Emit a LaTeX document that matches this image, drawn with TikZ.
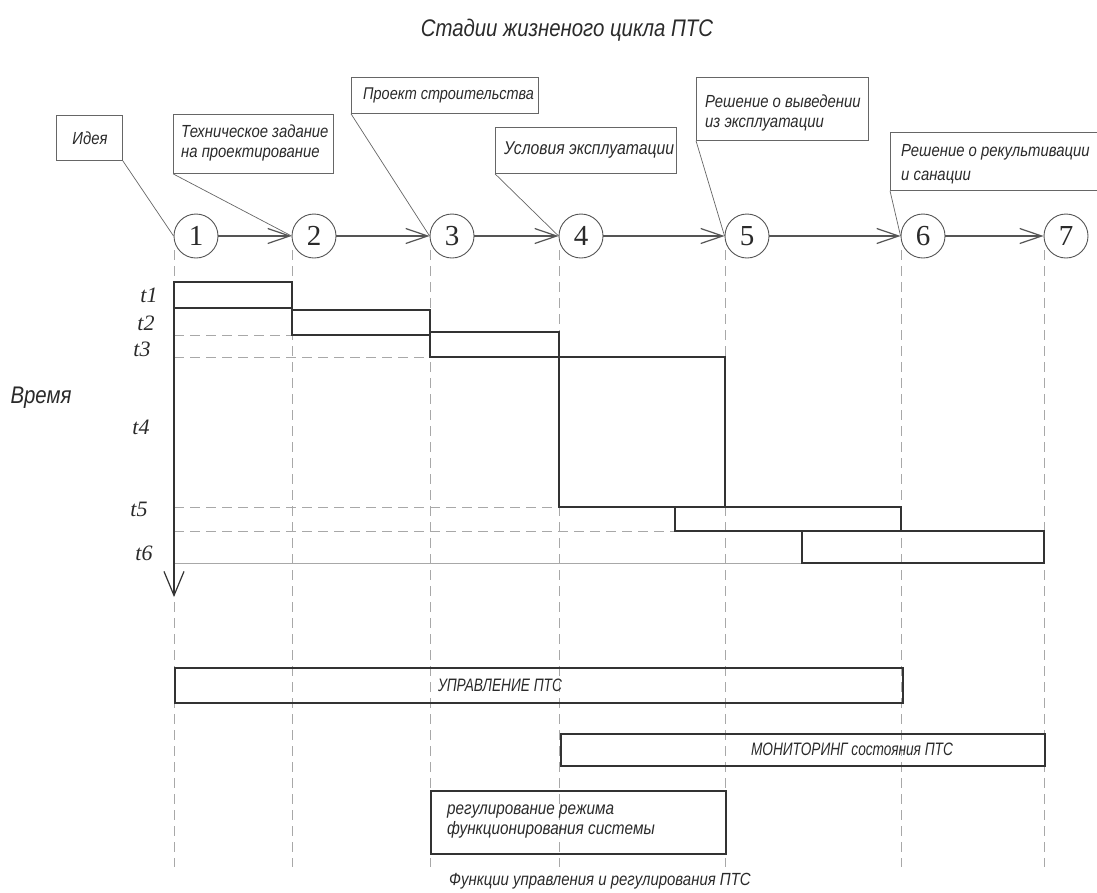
\documentclass[tikz,border=0pt]{standalone}
\usepackage{fontspec}
\setmainfont{Liberation Serif}
\newfontfamily\gost{Liberation Sans}[FakeStretch=0.85]
\newfontfamily\gostc{Liberation Sans}[FakeStretch=0.76]
\usetikzlibrary{arrows.meta}
\definecolor{ink}{HTML}{2A2A2A}
\definecolor{boxline}{HTML}{333333}
\definecolor{arrline}{HTML}{555555}
\definecolor{leadline}{HTML}{666666}
\definecolor{dashline}{HTML}{A8A8A8}
\begin{document}
\begin{tikzpicture}[x=1pt,y=-1pt,
  circ/.style={circle,draw=arrline,line width=0.9pt,minimum size=44pt,inner sep=0pt,text=ink,fill=white,font=\fontsize{29}{29}\selectfont},
  arr/.style={draw=arrline,line width=2.2pt,-{Straight Barb[length=22pt,width=15pt,line width=1.2pt]}},
  callout/.style={draw=leadline,line width=0.8pt,inner sep=0pt,anchor=north west},
  ctext/.style={text=ink,font=\gost\itshape\fontsize{17.5}{20}\selectfont,align=left,anchor=west,inner sep=0pt},
  leader/.style={draw=leadline,line width=0.7pt},
  vdash/.style={draw=dashline,line width=0.9pt,dash pattern=on 10pt off 6pt},
  hdash/.style={draw=dashline,line width=0.9pt,dash pattern=on 10pt off 6pt},
  tbox/.style={draw=boxline,line width=1.5pt},
  fbox/.style={draw=boxline,line width=1.5pt,inner sep=0pt,anchor=north west},
  tlab/.style={text=ink,font=\itshape\fontsize{22}{22}\selectfont},
  gtext/.style={text=ink,font=\gost\itshape\fontsize{#1}{#1}\selectfont},
  gtext/.default=18,
  gcaps/.style={text=ink,font=\gostc\itshape\fontsize{18}{18}\selectfont}
]
\useasboundingbox (0,0) rectangle (1097,892);

% title
\node[gtext=24] (title) at (567,30) {Стадии жизненого цикла ПТС};

% vertical dashed guide lines
\foreach \xx/\nm in {174/v1,292/v2,430/v3,559/v4,725/v5,901/v6,1044/v7}{
  \coordinate (\nm a) at (\xx,250);
  \coordinate (\nm b) at (\xx,867);
  \draw[vdash] (\nm a) -- (\nm b);
}

% stage circles
\node[circ] (c1) at (196,236) {1};
\node[circ] (c2) at (314,236) {2};
\node[circ] (c3) at (452,236) {3};
\node[circ] (c4) at (581,236) {4};
\node[circ] (c5) at (747,236) {5};
\node[circ] (c6) at (923,236) {6};
\node[circ] (c7) at (1066,236) {7};
\draw[arr] (c1) -- (c2);
\draw[arr] (c2) -- (c3);
\draw[arr] (c3) -- (c4);
\draw[arr] (c4) -- (c5);
\draw[arr] (c5) -- (c6);
\draw[arr] (c6) -- (c7);

% callouts
\node[callout,minimum width=66pt,minimum height=45pt] (b1) at (56,115) {};
\node[ctext,anchor=center] (b1t) at (90,138) {Идея};
\node[callout,minimum width=160pt,minimum height=59pt] (b2) at (173,114) {};
\node[ctext] (b2t) at (181,143) {Техническое задание\\на проектирование};
\node[callout,minimum width=187pt,minimum height=36pt] (b3) at (351,77) {};
\node[ctext,font=\gost\itshape\fontsize{17}{20}\selectfont] (b3t) at (363,95) {Проект строительства};
\node[callout,minimum width=181pt,minimum height=46pt] (b4) at (495,127) {};
\node[ctext,font=\gost\itshape\fontsize{18.5}{20}\selectfont] (b4t) at (504,150) {Условия эксплуатации};
\node[callout,minimum width=172pt,minimum height=63pt] (b5) at (696,77) {};
\node[ctext] (b5t) at (705,113) {Решение о выведении\\из эксплуатации};
\node[callout,minimum width=220pt,minimum height=58pt] (b6) at (890,132) {};
\node[ctext,font=\gost\itshape\fontsize{17.5}{24}\selectfont] (b6t) at (901,164) {Решение о рекультивации\\и санации};
\draw[leader] (b1.south east) -- (c1.west);
\draw[leader] (b2.south west) -- (c2.west);
\draw[leader] (b3.south west) -- (c3.west);
\draw[leader] (b4.south west) -- (c4.west);
\draw[leader] (b5.south west) -- (c5.west);
\draw[leader] (b6.south west) -- (c6.west);

% time axis
\node[gtext=24] (vremya) at (41,398) {Время};
\coordinate (ax0) at (174,282);
\coordinate (ax1) at (174,597);

% dashed level lines
\draw[hdash] (174,335) -- (292,335);
\draw[hdash] (174,357) -- (430,357);
\draw[hdash] (174,507) -- (559,507);
\draw[hdash] (174,531) -- (675,531);
\draw[draw=dashline,line width=0.9pt] (174,563) -- (802,563);

% duration bars
\draw[tbox] (174,282) rectangle (292,308);
\draw[tbox] (292,310) rectangle (430,335);
\draw[tbox] (430,332) rectangle (559,357);
\draw[tbox] (559,357) rectangle (725,507);
\draw[tbox] (675,507) rectangle (901,531);
\draw[tbox] (802,531) rectangle (1044,563);
\draw[draw=boxline,line width=1.5pt,-{Straight Barb[length=24pt,width=20pt,line width=1.2pt]}] (ax0) -- (ax1);

\node[tlab] (t1) at (149,295) {t1};
\node[tlab] (t2) at (146,323) {t2};
\node[tlab] (t3) at (142,349) {t3};
\node[tlab] (t4) at (141,427) {t4};
\node[tlab] (t5) at (139,509) {t5};
\node[tlab] (t6) at (144,553) {t6};

% functions
\node[fbox,minimum width=728pt,minimum height=35pt] (upr) at (174,667) {};
\node[gcaps] (uprt) at (500,685) {УПРАВЛЕНИЕ ПТС};
\node[fbox,minimum width=484pt,minimum height=32pt] (mon) at (560,733) {};
\node[gcaps] (mont) at (852,749) {МОНИТОРИНГ состояния ПТС};
\node[fbox,minimum width=295pt,minimum height=63pt] (reg) at (430,790) {};
\node[ctext,font=\gost\itshape\fontsize{18}{20}\selectfont] (regt) at (447,822) {регулирование режима\\функционирования системы};
\node[gtext=17.6] (caption) at (600,881) {Функции управления и регулирования ПТС};
\end{tikzpicture}
\end{document}
